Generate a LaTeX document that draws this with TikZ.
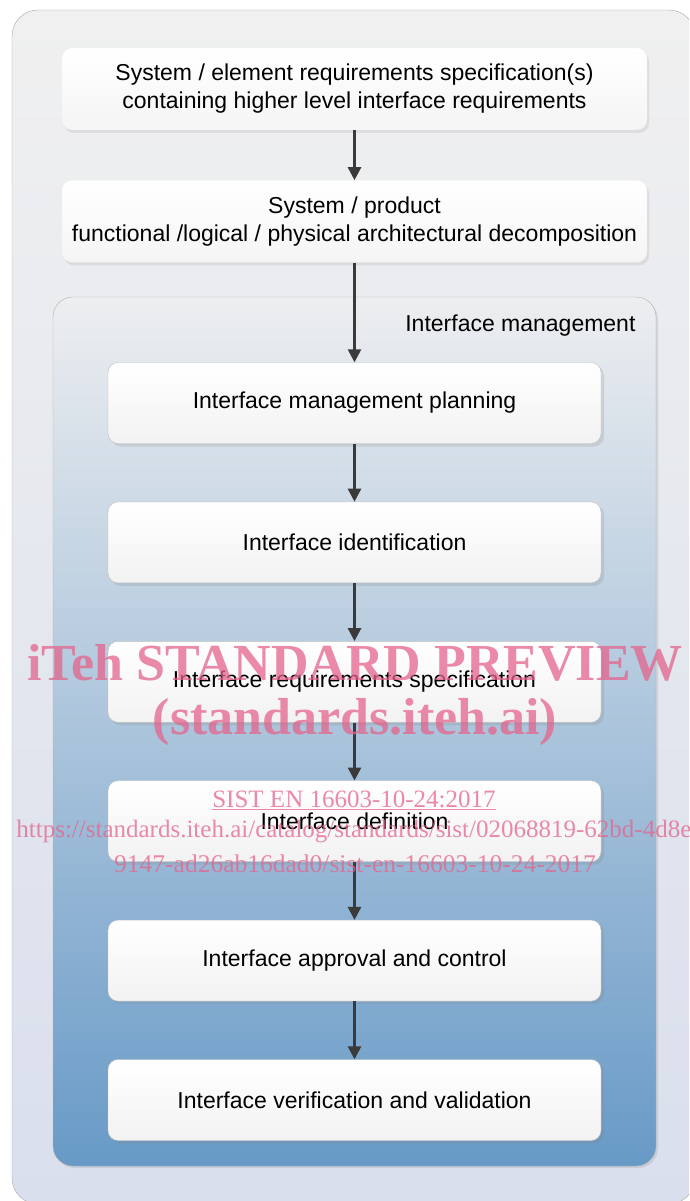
\documentclass[tikz,border=0pt]{standalone}
\usepackage{fontspec}
\setmainfont{Liberation Sans}
\newfontfamily\wmfont{Liberation Serif}
\usetikzlibrary{arrows.meta, positioning, shadows}
\definecolor{outertop}{RGB}{240,240,240}
\definecolor{outerbot}{RGB}{217,223,237}
\definecolor{mgmttop}{RGB}{237,238,240}
\definecolor{mgmtbot}{RGB}{104,154,199}
\definecolor{arrowgray}{RGB}{58,58,58}
\definecolor{wmpink}{RGB}{228,100,140}

\begin{document}
\begin{tikzpicture}[x=1pt, y=-1pt,
    font=\fontsize{23}{28}\selectfont,
    topbox/.style={draw=black!10, dotted, rounded corners=10pt, top color=white, bottom color=black!4,
        minimum width=585pt, minimum height=82pt, align=center,
        drop shadow={shadow xshift=2pt, shadow yshift=-3pt, opacity=0.15}},
    stepbox/.style={draw=black!25, rounded corners=10pt, top color=white, bottom color=black!5,
        minimum width=493pt, minimum height=81pt, align=center,
        drop shadow={shadow xshift=3pt, shadow yshift=-3pt, opacity=0.2}},
    flow/.style={-{Triangle[length=13pt, width=13pt]}, draw=arrowgray, line width=2.6pt},
    wm/.style={text=wmpink, opacity=0.75, font=\wmfont\fontsize{#1}{#1}\selectfont}
]
    \clip (0,0) rectangle (689,1201);

    % outer frame
    \draw[black!35, top color=outertop, bottom color=outerbot, rounded corners=26pt]
        (12,10) rectangle (695,1204);

    % system level
    \node[topbox] (sysreq) at (354.5,89) {System / element requirements specification(s)\\containing higher level interface requirements};
    \node[topbox, below=50pt of sysreq] (arch) {System / product\\functional /logical / physical architectural decomposition};

    % interface management block
    \draw[black!30, top color=mgmttop, bottom color=mgmtbot, rounded corners=20pt,
        drop shadow={shadow xshift=2pt, shadow yshift=-2pt, opacity=0.2}]
        (53,297) rectangle (656,1166);
    \node[anchor=east] (mgmtlabel) at (639,326) {Interface management};

    \node[stepbox] (plan) at (354.5,403) {Interface management planning};
    \node[stepbox, below=58pt of plan] (ident) {Interface identification};
    \node[stepbox, below=58pt of ident] (reqspec) {Interface requirements specification};
    \node[stepbox, below=58pt of reqspec] (defn) {Interface definition};
    \node[stepbox, below=58pt of defn] (approve) {Interface approval and control};
    \node[stepbox, below=58pt of approve] (verval) {Interface verification and validation};

    % arrows
    \draw[flow] (sysreq) -- (arch);
    \draw[flow] (arch) -- (plan);
    \foreach \a/\b in {plan/ident, ident/reqspec, reqspec/defn, defn/approve, approve/verval} {
        \draw[flow] (\a) -- (\b);
    }

    % watermark
    \node[wm=52, font=\wmfont\bfseries\fontsize{52}{52}\selectfont] (wmtitle) at (355,663) {iTeh STANDARD PREVIEW};
    \node[wm=52, font=\wmfont\bfseries\fontsize{52}{52}\selectfont] (wmsite) at (355,722) {(standards.iteh.ai)};
    \node[wm=25] (wmcode) at (354,800) {\underline{SIST EN 16603-10-24:2017}};
    \node[wm=25] (wmurl1) at (358,832) {https://standards.iteh.ai/catalog/standards/sist/02068819-62bd-4d8e-};
    \node[wm=25.5] (wmurl2) at (355,864) {9147-ad26ab16dad0/sist-en-16603-10-24-2017};
\end{tikzpicture}
\end{document}
